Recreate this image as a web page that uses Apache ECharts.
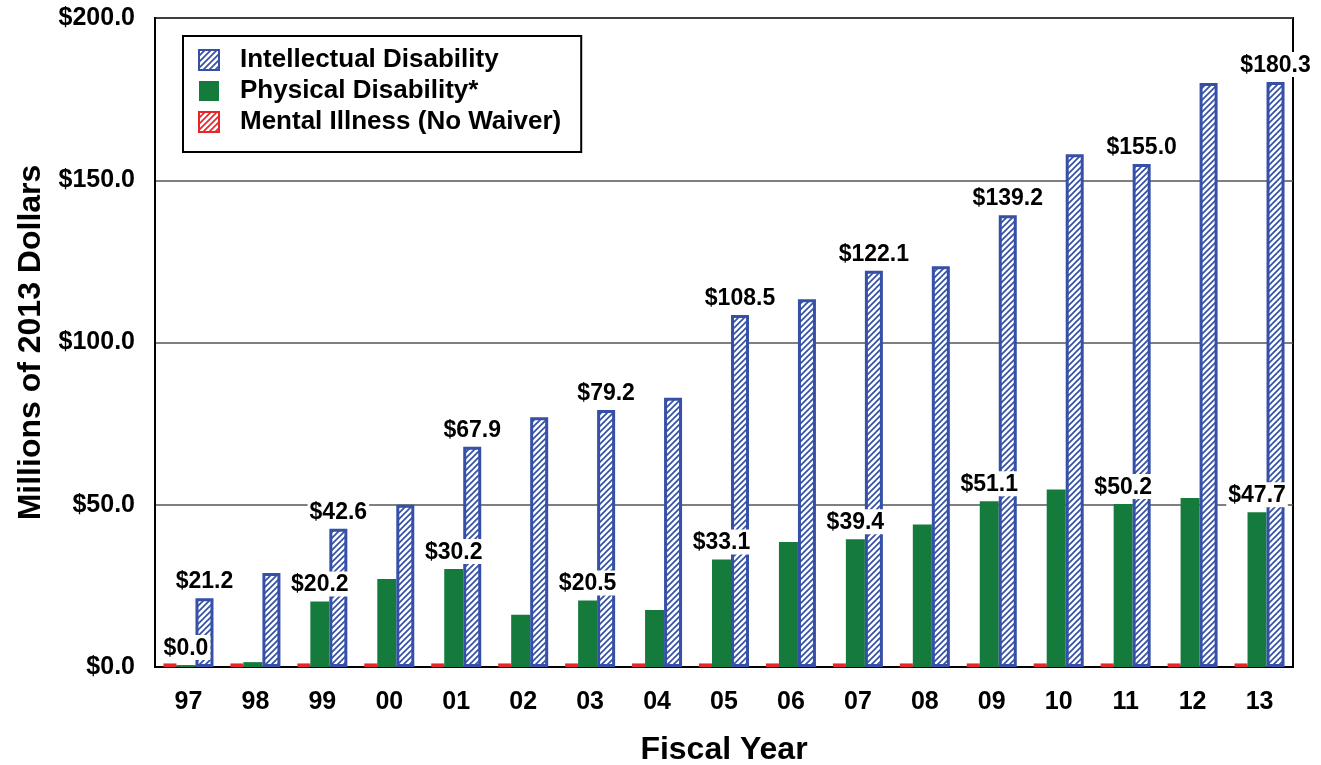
<!DOCTYPE html>
<html>
<head>
<meta charset="utf-8">
<script src="https://cdn.jsdelivr.net/npm/echarts@6/dist/echarts.min.js"></script>
<style>
  html, body { margin: 0; padding: 0; background: #fff; }
  #chart { width: 1321px; height: 765px; }
</style>
</head>
<body>
<div id="chart"></div>
<script>
// --- data ---
const categories = ['97', '98', '99', '00', '01', '02', '03', '04', '05', '06', '07', '08', '09', '10', '11', '12', '13']
const intellectual = [21.2, 29.0, 42.6, 50.0, 67.9, 77.0, 79.2, 83.0, 108.5, 113.3, 122.1, 123.5, 139.2, 158.0, 155.0, 180.0, 180.3]
const physical = [0.6, 1.5, 20.2, 27.1, 30.2, 16.1, 20.5, 17.6, 33.1, 38.5, 39.4, 43.9, 51.1, 54.7, 50.2, 52.1, 47.7]
const mental = [1.1, 1.1, 1.1, 1.1, 1.1, 1.1, 1.1, 1.1, 1.1, 1.1, 1.1, 1.1, 1.1, 1.1, 1.1, 1.1, 1.1]
const intellectualLabels = ['$21.2', '', '$42.6', '', '$67.9', '', '$79.2', '', '$108.5', '', '$122.1', '', '$139.2', '', '$155.0', '', '$180.3']
const physicalLabels = ['$0.0', '', '$20.2', '', '$30.2', '', '$20.5', '', '$33.1', '', '$39.4', '', '$51.1', '', '$50.2', '', '$47.7']
const yTicks = [0, 50, 100, 150, 200]

const BLUE = '#3550a6'
const GREEN = '#147b3d'
const RED = '#e8262a'
const FONT = '"Liberation Sans", Arial, sans-serif'

// hatched fill "/" stripes on white
function hatch(color) {
  const c = document.createElement('canvas')
  c.width = 6
  c.height = 6
  const ctx = c.getContext('2d')
  ctx.fillStyle = '#fff'
  ctx.fillRect(0, 0, 6, 6)
  ctx.strokeStyle = color
  ctx.lineWidth = 1.7
  ctx.beginPath()
  ctx.moveTo(-1, 7); ctx.lineTo(7, -1)
  ctx.moveTo(-1, 1); ctx.lineTo(1, -1)
  ctx.moveTo(5, 7); ctx.lineTo(7, 5)
  ctx.stroke()
  return c
}

const valueLabel = (texts) => ({
  show: true,
  position: 'top',
  distance: 5,
  formatter: p => texts[p.dataIndex],
  color: '#000',
  fontFamily: FONT,
  fontWeight: 'bold',
  fontSize: 23,
  backgroundColor: '#fff',
  padding: [2, 2, 0, 2]
})

const chart = echarts.init(document.getElementById('chart'))

const option = {
  backgroundColor: '#fff',
  animation: false,
  grid: {
    left: 155,
    right: 28,
    top: 18,
    bottom: 98,
    outerBoundsMode: 'none',
    show: true,
    borderColor: '#000',
    borderWidth: 2
  },
  legend: {
    orient: 'vertical',
    left: 183,
    top: 36,
    data: ['Intellectual Disability', 'Physical Disability*', 'Mental Illness (No Waiver)'],
    icon: 'rect',
    itemWidth: 20,
    itemHeight: 20,
    itemGap: 5,
    padding: [11, 20, 17, 15],
    backgroundColor: '#fff',
    borderColor: '#000',
    borderWidth: 2,
    textStyle: {
      color: '#000',
      fontFamily: FONT,
      fontWeight: 'bold',
      fontSize: 26,
      padding: [0, 0, 0, 16]
    }
  },
  xAxis: {
    type: 'category',
    data: categories,
    name: 'Fiscal Year',
    nameLocation: 'middle',
    nameGap: 67,
    nameTextStyle: { color: '#000', fontFamily: FONT, fontWeight: 'bold', fontSize: 32 },
    axisLine: { lineStyle: { color: '#000', width: 2 } },
    axisTick: { inside: true, length: 16, lineStyle: { color: '#000', width: 1.5 } },
    axisLabel: { color: '#000', fontFamily: FONT, fontWeight: 'bold', fontSize: 25, margin: 23 }
  },
  yAxis: {
    type: 'value',
    min: yTicks[0],
    max: yTicks[yTicks.length - 1],
    interval: 50,
    name: 'Millions of 2013 Dollars',
    nameLocation: 'middle',
    nameGap: 101,
    nameTextStyle: { color: '#000', fontFamily: FONT, fontWeight: 'bold', fontSize: 32 },
    axisLine: { show: true, lineStyle: { color: '#000', width: 2 } },
    axisTick: { show: false },
    splitLine: { lineStyle: { color: '#555', width: 1.5 } },
    axisLabel: {
      color: '#000',
      fontFamily: FONT,
      fontWeight: 'bold',
      fontSize: 25,
      margin: 20,
      formatter: v => '$' + v.toFixed(1)
    }
  },
  series: [
    {
      name: 'Mental Illness (No Waiver)',
      type: 'bar',
      data: mental,
      barWidth: 13,
      barGap: '0%',
      itemStyle: { color: { image: hatch(RED), repeat: 'repeat' }, borderColor: RED, borderWidth: 3 }
    },
    {
      name: 'Physical Disability*',
      type: 'bar',
      data: physical,
      barWidth: 19,
      barGap: '0%',
      itemStyle: { color: GREEN },
      label: valueLabel(physicalLabels)
    },
    {
      name: 'Intellectual Disability',
      type: 'bar',
      data: intellectual,
      barWidth: 18,
      barGap: '0%',
      itemStyle: { color: { image: hatch(BLUE), repeat: 'repeat' }, borderColor: BLUE, borderWidth: 3 },
      label: valueLabel(intellectualLabels)
    }
  ]
}

chart.setOption(option)
</script>
</body>
</html>
